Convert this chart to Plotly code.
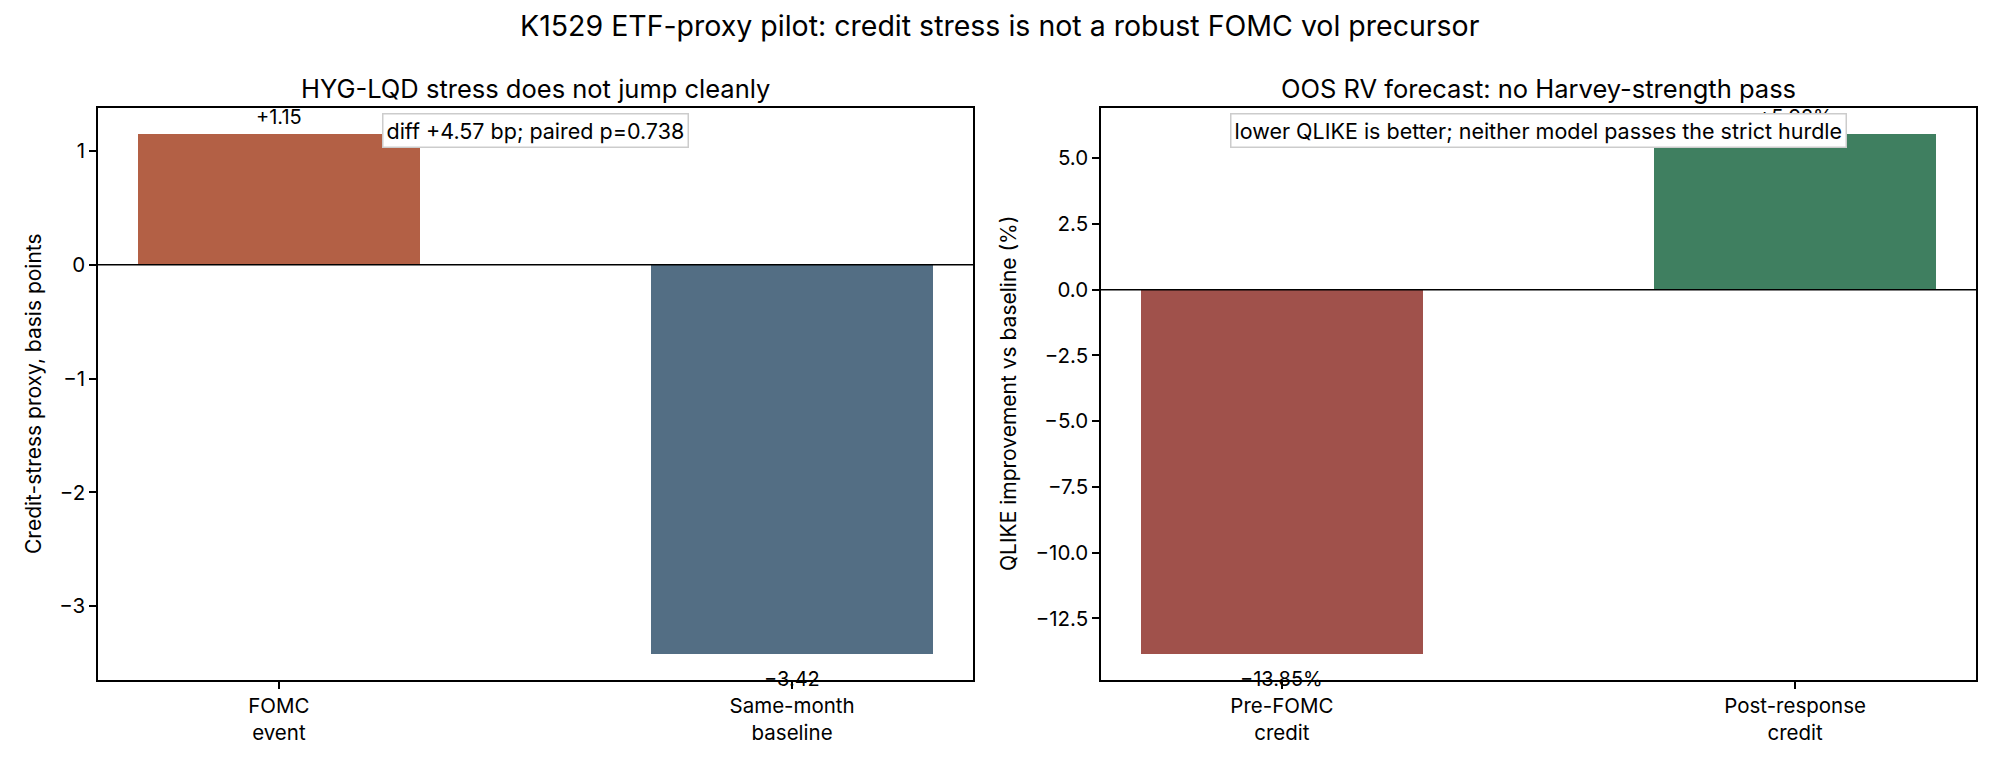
import plotly.graph_objects as go

# ---- data ----
left_categories = ["FOMC<br>event", "Same-month<br>baseline"]
left_values = [1.15, -3.42]
left_labels = ["+1.15", "−3.42"]
left_colors = ["#b36045", "#536e84"]

right_categories = ["Pre-FOMC<br>credit", "Post-response<br>credit"]
right_values = [-13.85, 5.92]
right_labels = ["−13.85%", "+5.92%"]
right_colors = ["#a0514b", "#3f7f60"]

suptitle = "K1529 ETF-proxy pilot: credit stress is not a robust FOMC vol precursor"
left_title = "HYG-LQD stress does not jump cleanly"
right_title = "OOS RV forecast: no Harvey-strength pass"
left_ylabel = "Credit-stress proxy, basis points"
right_ylabel = "QLIKE improvement vs baseline (%)"
left_note = "diff +4.57 bp; paired p=0.738"
right_note = "lower QLIKE is better; neither model passes the strict hurdle"

FONT = "Inter"
W, H = 2000, 768
BAR_W = 0.55


def padded(vals):
    lo, hi = min(0, min(vals)), max(0, max(vals))
    pad = 0.05 * (hi - lo)
    return [lo - pad, hi + pad]


def xpad():
    lo, hi = -BAR_W / 2, 1 + BAR_W / 2
    pad = 0.05 * (hi - lo)
    return [lo - pad, hi + pad]


fig = go.Figure()
fig.add_trace(go.Bar(x=left_categories, y=left_values, marker_color=left_colors,
                     width=BAR_W, xaxis="x", yaxis="y", showlegend=False,
                     marker_line_width=0))
fig.add_trace(go.Bar(x=right_categories, y=right_values, marker_color=right_colors,
                     width=BAR_W, xaxis="x2", yaxis="y2", showlegend=False,
                     marker_line_width=0))

ydom = [(H - 680) / H, (H - 108) / H]
xdom1 = [98 / W, 973 / W]
xdom2 = [1101 / W, 1976 / W]

axis_common = dict(showline=True, mirror=True, linecolor="black", linewidth=1.5,
                   ticks="outside", ticklen=7, tickwidth=1.5, tickcolor="black",
                   showgrid=False, zeroline=False,
                   tickfont=dict(family=FONT, size=20.5, color="black"))

fig.update_layout(
    width=W, height=H, autosize=False,
    margin=dict(l=0, r=0, t=0, b=0),
    paper_bgcolor="white", plot_bgcolor="white",
    font=dict(family=FONT, color="black"),
    xaxis=dict(domain=xdom1, anchor="y", range=xpad(), type="category", **axis_common),
    yaxis=dict(domain=ydom, anchor="x", range=padded(left_values), dtick=1, **axis_common),
    xaxis2=dict(domain=xdom2, anchor="y2", range=xpad(), type="category", **axis_common),
    yaxis2=dict(domain=ydom, anchor="x2", range=padded(right_values), dtick=2.5,
                tickformat=".1f", **axis_common),
    bargap=0,
)

# zero lines
for xr, yr in [("x domain", "y"), ("x2 domain", "y2")]:
    fig.add_shape(type="line", xref=xr, yref=yr, x0=0, x1=1, y0=0, y1=0,
                  line=dict(color="black", width=1.5))

ann = []
# titles
ann.append(dict(text=suptitle, xref="paper", yref="paper", x=0.5, y=1 - 25 / H,
                xanchor="center", yanchor="middle", showarrow=False,
                font=dict(family=FONT, size=28.5)))
ann.append(dict(text=left_title, xref="x domain", yref="paper", x=0.5, y=(H - 89) / H,
                xanchor="center", yanchor="middle", showarrow=False,
                font=dict(family=FONT, size=25.5)))
ann.append(dict(text=right_title, xref="x2 domain", yref="paper", x=0.5, y=(H - 89) / H,
                xanchor="center", yanchor="middle", showarrow=False,
                font=dict(family=FONT, size=25.5)))
# y labels
ann.append(dict(text=left_ylabel, xref="paper", yref="y domain", x=33 / W, y=0.5,
                textangle=-90, xanchor="center", yanchor="middle", showarrow=False,
                font=dict(family=FONT, size=21)))
ann.append(dict(text=right_ylabel, xref="paper", yref="y2 domain", x=1008 / W, y=0.5,
                textangle=-90, xanchor="center", yanchor="middle", showarrow=False,
                font=dict(family=FONT, size=21)))
# value labels
for cats, vals, labs, xr, yr in [(left_categories, left_values, left_labels, "x", "y"),
                                 (right_categories, right_values, right_labels, "x2", "y2")]:
    for c, v, t in zip(cats, vals, labs):
        ann.append(dict(text=t, xref=xr, yref=yr, x=c, y=v, xanchor="center",
                        yanchor="middle", yshift=17 if v >= 0 else -25, showarrow=False,
                        font=dict(family=FONT, size=20)))
# note boxes
for note, xr, yr in [(left_note, "x domain", "y domain"), (right_note, "x2 domain", "y2 domain")]:
    ann.append(dict(text=note, xref=xr, yref=yr, x=0.5, y=0.960, xanchor="center",
                    yanchor="middle", showarrow=False, bgcolor="white",
                    bordercolor="#cccccc", borderwidth=1.5, borderpad=3,
                    font=dict(family=FONT, size=21.5)))

fig.update_layout(annotations=ann)
fig.write_html("out.html")
